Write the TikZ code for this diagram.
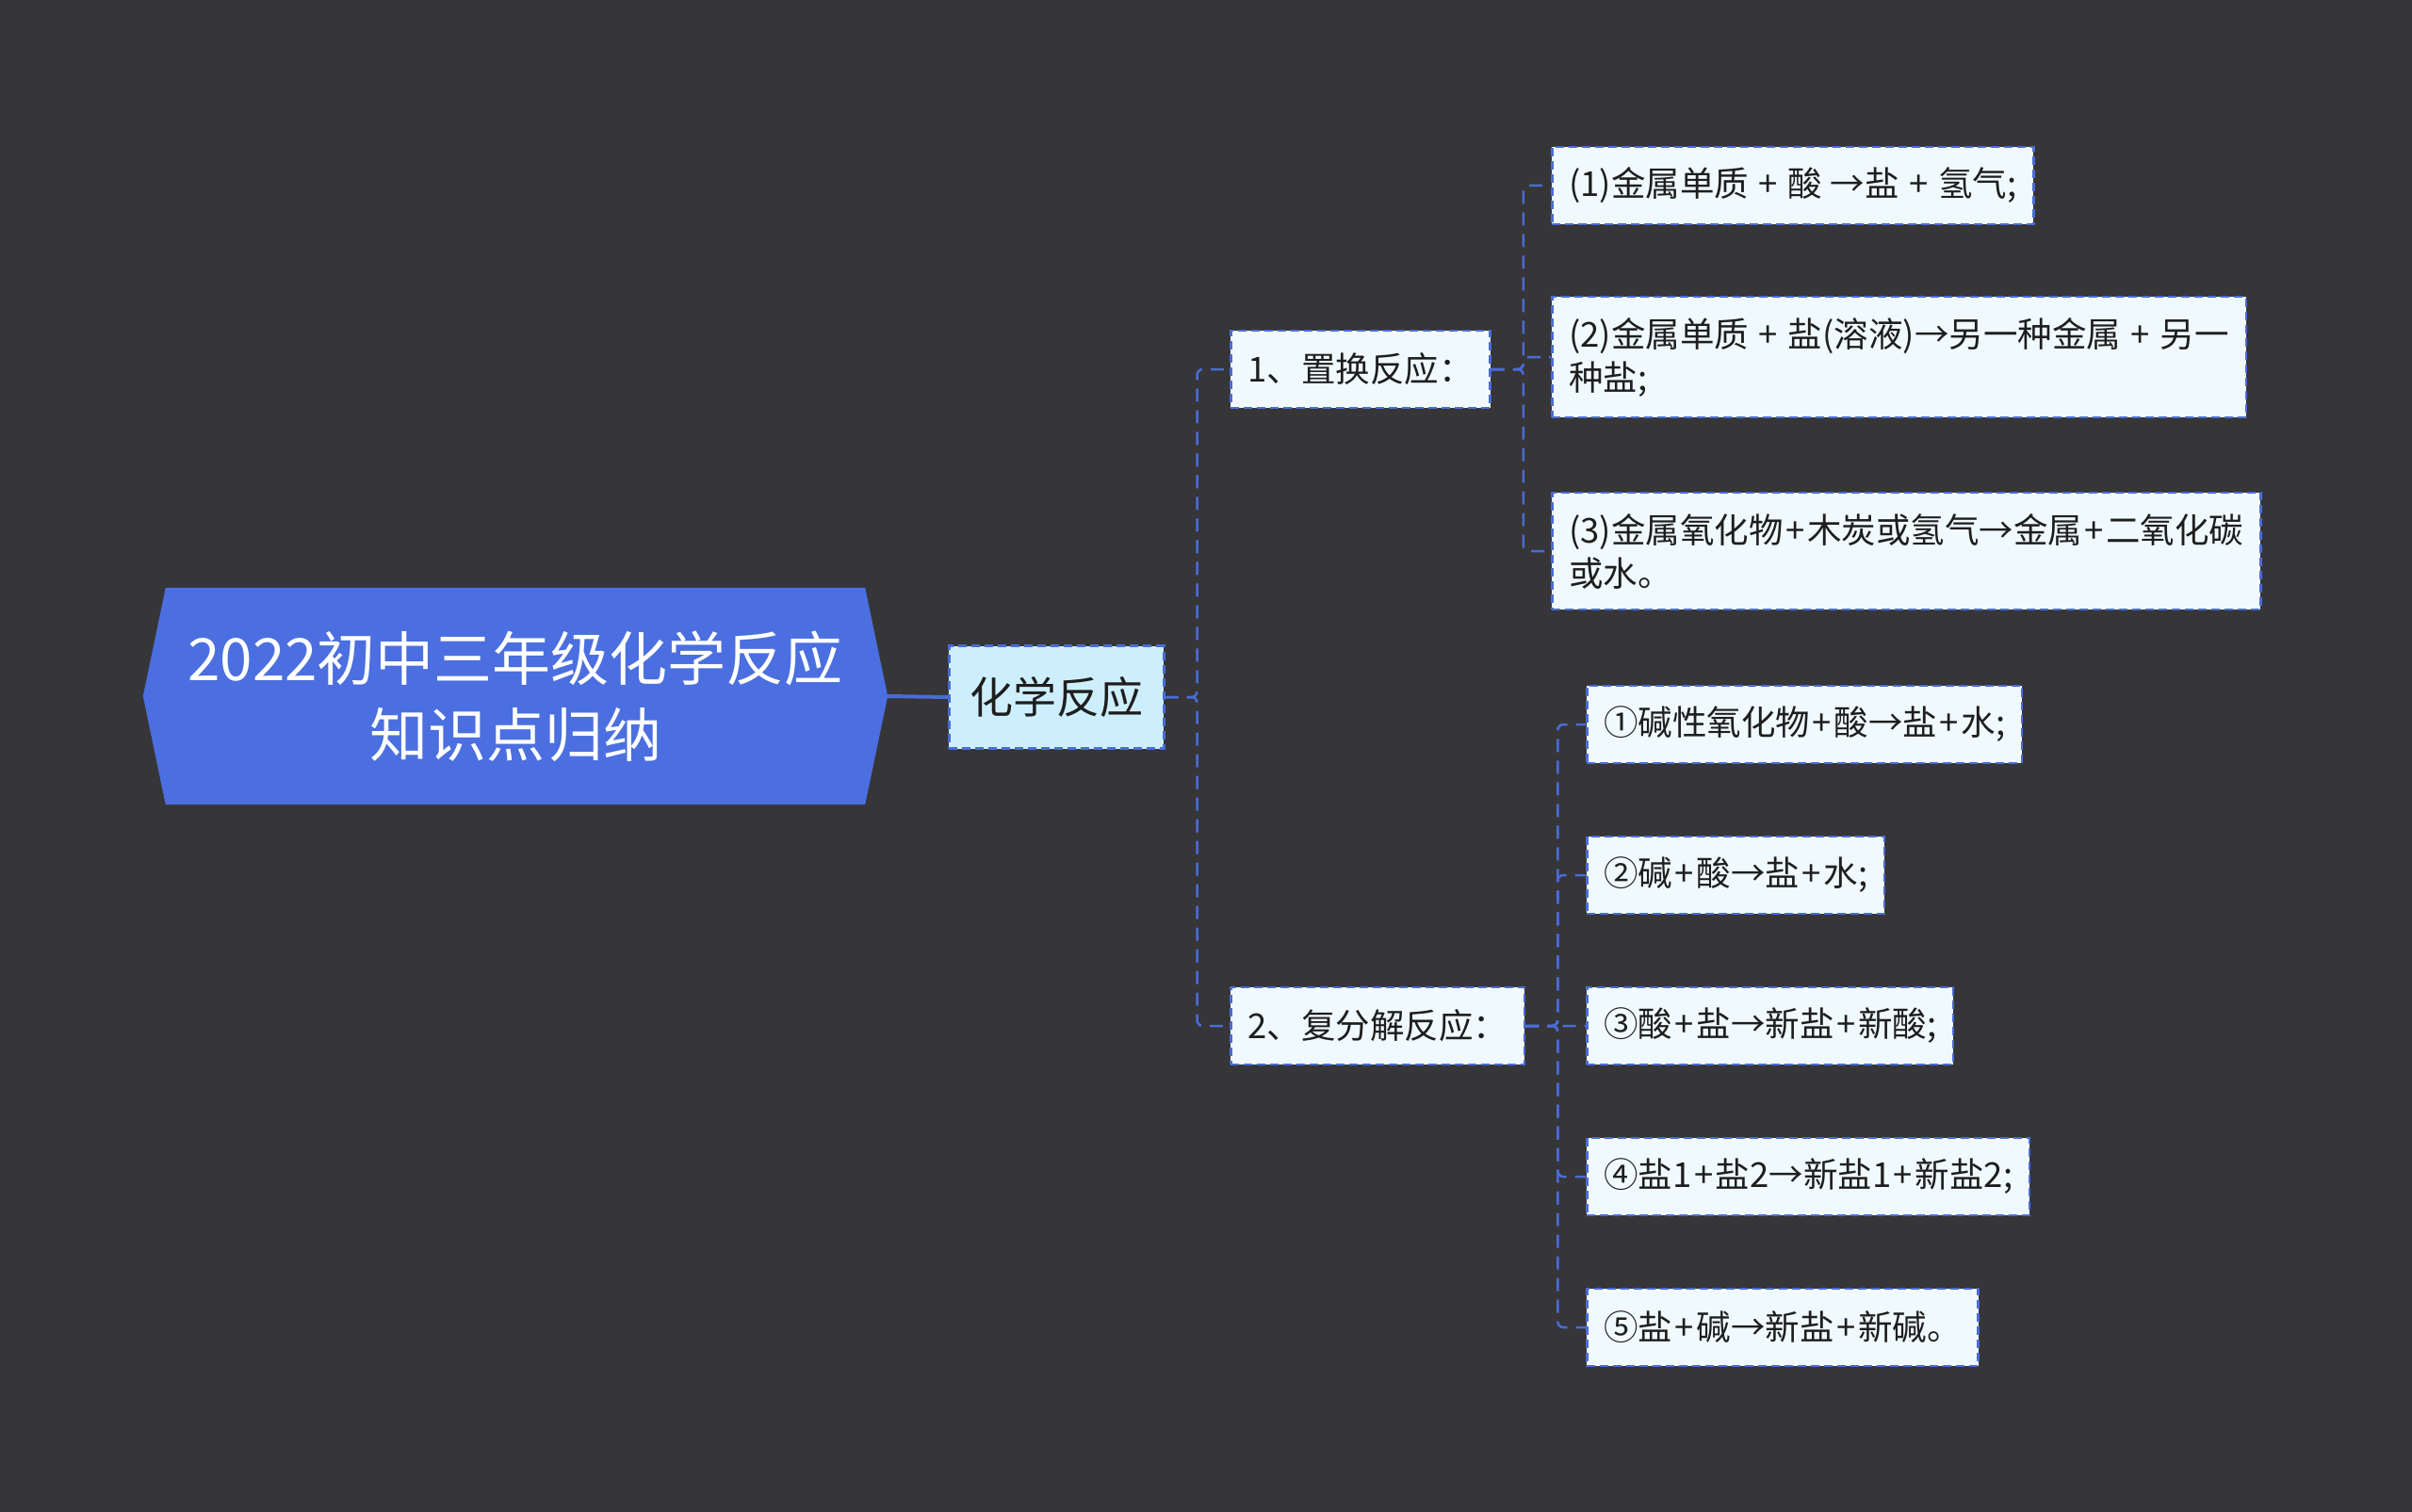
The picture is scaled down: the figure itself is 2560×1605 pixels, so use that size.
\documentclass[tikz,border=0pt]{standalone}
\usepackage{fontspec}
\setmainfont{Noto Sans CJK SC}
\usepackage{xcolor}
\usepackage{tikz}
\usetikzlibrary{positioning, calc, backgrounds}
\definecolor{mmBg}{HTML}{363538}
\definecolor{mmBlue}{HTML}{4B6FE0}
\definecolor{mmLine}{HTML}{4A6CD6}
\definecolor{mmCyan}{HTML}{CDEFFD}
\definecolor{mmLeaf}{HTML}{F0FAFE}
\definecolor{mmInk}{HTML}{1E1E1E}
\newcommand{\pp}{\kern0.07em+\kern0.07em}
\tikzset{
  rootbox/.style={
    rectangle, inner sep=0pt,
    minimum width=742pt, minimum height=230pt,
    align=center, text=white,
    font=\fontsize{62}{81}\selectfont
  },
  topic/.style={
    rectangle, draw=mmLine, fill=mmCyan,
    line width=2.5pt, dash pattern=on 9pt off 5pt,
    inner xsep=22pt, minimum height=109pt,
    anchor=west, text=mmInk,
    font=\fontsize{46}{56}\selectfont
  },
  leaf/.style={
    rectangle, draw=mmLine, fill=mmLeaf,
    line width=2.5pt, dash pattern=on 9pt off 5pt,
    inner xsep=18pt, inner ysep=22pt, minimum height=82pt,
    anchor=west, align=left, text=mmInk,
    font=\fontsize{36.5}{46}\selectfont
  },
  link/.style={
    mmLine, line width=2.5pt, dash pattern=on 14pt off 9pt,
    rounded corners=6pt
  }
}

\begin{document}
\begin{tikzpicture}[x=1pt, y=-1pt]
  \useasboundingbox (0,0) rectangle (2560,1605);
  \node[rootbox] (root) at (547, 739) {2022初中三年级化学反应\\知识点归纳};
  \coordinate (roottip) at ([xshift=24pt]root.east);
  \node[topic] (chem) at (1006, 740) {化学反应};
  \node[leaf] (repl) at (1305, 392) {1、置换反应：};
  \node[leaf] (dbl) at (1305, 1089) {2、复分解反应：};
  \node[leaf] (r1) at (1646, 197) {(1)金属单质 \pp{} 酸 →盐 \pp{} 氢气;};
  \node[leaf] (r2) at (1646, 379) {(2)金属单质 \pp{} 盐(溶液)→另一种金属 \pp{} 另一\\种盐;};
  \node[leaf] (r3) at (1646, 585) {(3)金属氧化物\pp{}木炭或氢气→金属\pp{}二氧化碳\\或水。};
  \node[leaf] (d1) at (1683, 769) {①碱性氧化物\pp{}酸→盐\pp{}水;};
  \node[leaf] (d2) at (1683, 929) {②碱\pp{}酸→盐\pp{}水;};
  \node[leaf] (d3) at (1683, 1089) {③酸\pp{}盐→新盐\pp{}新酸;};
  \node[leaf] (d4) at (1683, 1249) {④盐1\pp{}盐2→新盐1\pp{}新盐2;};
  \node[leaf] (d5) at (1683, 1409) {⑤盐\pp{}碱→新盐\pp{}新碱。};
  \begin{scope}[on background layer]
    \fill[mmBg] (0,0) rectangle (2560,1605);
    \fill[mmBlue] (root.north west) -- (root.north east) -- (roottip) -- (root.south east)
      -- (root.south west) -- ([xshift=-24pt]root.west) -- cycle;
    \draw[mmLine, line width=4pt] (roottip) -- (chem.west);
    \foreach \p/\c in {chem/repl, chem/dbl, repl/r1, repl/r2, repl/r3,
                       dbl/d1, dbl/d2, dbl/d3, dbl/d4, dbl/d5} {
      \draw[link] (\p.east) -- ++(34,0) |- (\c.west);
    }
  \end{scope}
\end{tikzpicture}
\end{document}
